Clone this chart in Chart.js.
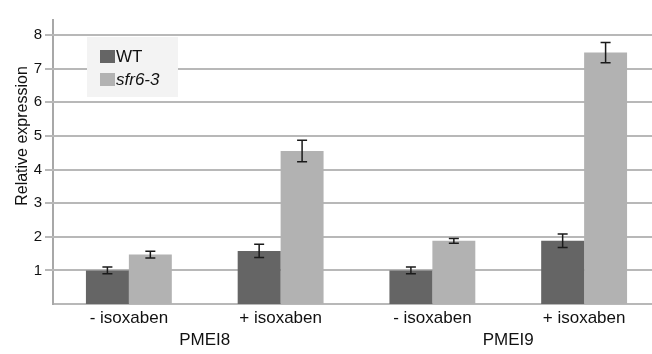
<!DOCTYPE html>
<html>
<head>
<meta charset="utf-8">
<script src="https://cdn.jsdelivr.net/npm/chart.js@4"></script>
<style>
html,body{margin:0;padding:0;background:#fff;overflow:hidden;}
#wrap{width:660px;height:354px;position:relative;}
</style>
</head>
<body>
<div id="wrap"><canvas id="c" width="660" height="354"></canvas></div>
<script>
const categories = ['- isoxaben', '+ isoxaben', '- isoxaben', '+ isoxaben'];
const groupLabels = ['PMEI8', 'PMEI9'];
const seriesNames = ['WT', 'sfr6-3'];
const wtValues = [1.0, 1.58, 1.0, 1.88];
const wtErrors = [0.1, 0.2, 0.1, 0.2];
const sfrValues = [1.47, 4.55, 1.88, 7.48];
const sfrErrors = [0.1, 0.32, 0.07, 0.3];
const yTickStep = 1;
const yMax = 8.45;
const yTitle = 'Relative expression';

const FONT = '"Liberation Sans", Arial, Helvetica, sans-serif';
const WT_COLOR = '#656565';
const SFR_COLOR = '#b2b2b2';
const GRID = '#b8b8b8';

const gridLines = {
  id: 'gridLines',
  beforeDatasetsDraw(chart) {
    const ctx = chart.ctx;
    const ys = chart.scales.y;
    const area = chart.chartArea;
    ctx.save();
    ctx.strokeStyle = GRID;
    ctx.lineWidth = 2;
    ys.ticks.forEach(t => {
      if (t.value === 0) return;
      const py = Math.round(ys.getPixelForValue(t.value));
      ctx.beginPath();
      ctx.moveTo(area.left - 8, py);
      ctx.lineTo(area.right, py);
      ctx.stroke();
    });
    ctx.restore();
  }
};

const errorBars = {
  id: 'errorBars',
  afterDatasetsDraw(chart) {
    const ctx = chart.ctx;
    const y = chart.scales.y;
    ctx.save();
    ctx.strokeStyle = '#1a1a1a';
    ctx.lineWidth = 1.5;
    chart.data.datasets.forEach((ds, di) => {
      const meta = chart.getDatasetMeta(di);
      meta.data.forEach((el, i) => {
        const v = ds.data[i], e = ds.errors[i];
        const y1 = y.getPixelForValue(v + e), y2 = y.getPixelForValue(v - e);
        const x = el.x, cap = 5;
        ctx.beginPath();
        ctx.moveTo(x, y1); ctx.lineTo(x, y2);
        ctx.moveTo(x - cap, y1); ctx.lineTo(x + cap, y1);
        ctx.moveTo(x - cap, y2); ctx.lineTo(x + cap, y2);
        ctx.stroke();
      });
    });
    ctx.restore();
  }
};

const extras = {
  id: 'extras',
  afterDraw(chart) {
    const ctx = chart.ctx;
    const xs = chart.scales.x;
    ctx.save();
    ctx.fillStyle = '#111';
    ctx.font = '17px ' + FONT;
    ctx.textAlign = 'center';
    ctx.textBaseline = 'alphabetic';
    groupLabels.forEach((g, gi) => {
      const cx = (xs.getPixelForTick(gi * 2) + xs.getPixelForTick(gi * 2 + 1)) / 2;
      ctx.fillText(g, cx, 345);
    });
    ctx.save();
    ctx.translate(27, 136);
    ctx.rotate(-Math.PI / 2);
    ctx.font = '16px ' + FONT;
    ctx.textAlign = 'center';
    ctx.fillText(yTitle, 0, 0);
    ctx.restore();
    ctx.fillStyle = '#f3f3f3';
    ctx.fillRect(87, 37, 91, 60);
    const colors = [WT_COLOR, SFR_COLOR];
    seriesNames.forEach((n, i) => {
      const yy = 50 + i * 23;
      ctx.fillStyle = colors[i];
      ctx.fillRect(100, yy, 15, 13);
      ctx.fillStyle = '#111';
      ctx.textAlign = 'left';
      ctx.textBaseline = 'middle';
      ctx.font = (i === 1 ? 'italic ' : '') + '17px ' + FONT;
      ctx.fillText(n, 116, yy + 7);
    });
    ctx.restore();
  }
};

new Chart(document.getElementById('c'), {
  type: 'bar',
  data: {
    labels: categories,
    datasets: [
      { label: seriesNames[0], data: wtValues, errors: wtErrors, backgroundColor: WT_COLOR },
      { label: seriesNames[1], data: sfrValues, errors: sfrErrors, backgroundColor: SFR_COLOR }
    ]
  },
  options: {
    responsive: false,
    animation: false,
    devicePixelRatio: 1,
    layout: { padding: { top: 7, right: 0, left: 0, bottom: 0 } },
    plugins: { legend: { display: false }, tooltip: { enabled: false } },
    datasets: { bar: { categoryPercentage: 0.566, barPercentage: 1.0 } },
    scales: {
      x: {
        grid: { display: false, drawTicks: false },
        border: { color: GRID, width: 2 },
        ticks: { color: '#111', font: { family: FONT, size: 17 }, padding: 4, maxRotation: 0 },
        afterFit(s) { s.height = 50; }
      },
      y: {
        min: 0, max: yMax,
        grid: { display: false, drawTicks: false, tickLength: 8 },
        border: { display: true, color: '#a8a8a8', width: 2 },
        ticks: {
          stepSize: yTickStep, includeBounds: false,
          color: '#111', font: { family: FONT, size: 15 }, padding: 11,
          callback: v => (v === 0 ? '' : String(v))
        },
        afterFit(s) { s.width = 53; }
      }
    }
  },
  plugins: [gridLines, errorBars, extras]
});
</script>
</body>
</html>
